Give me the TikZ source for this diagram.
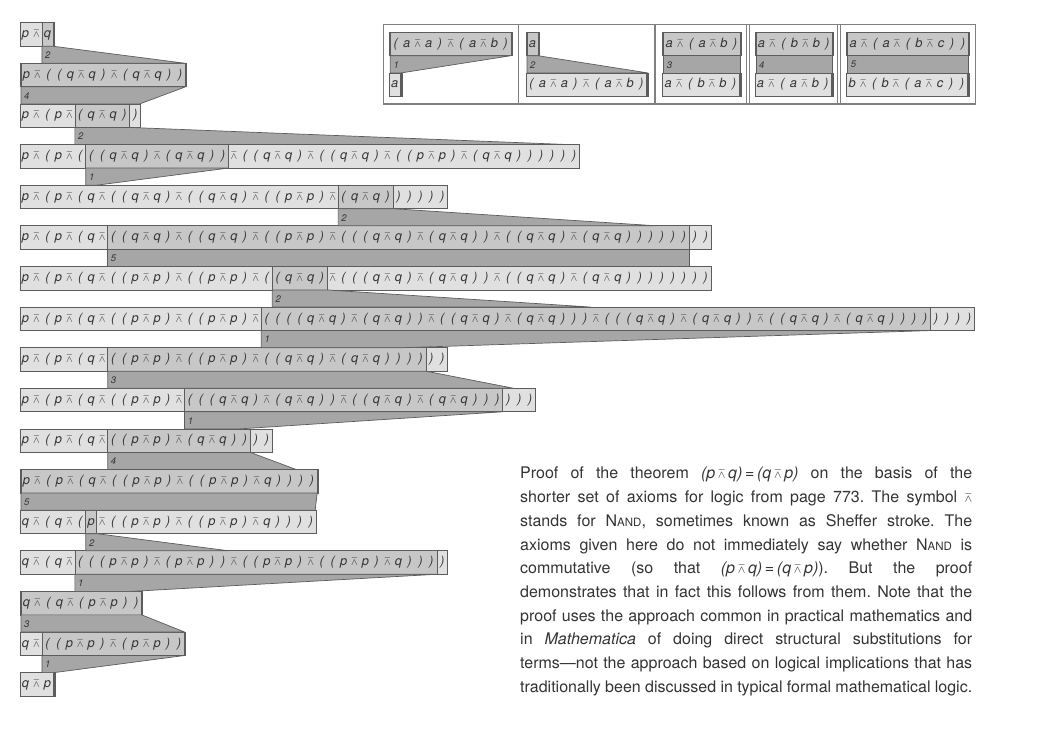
\documentclass[tikz,border=0pt]{standalone}
\usepackage{amssymb}
\usepackage{fontspec}
\setmainfont{TeX Gyre Heros}
\usetikzlibrary{positioning,calc}

\definecolor{boxlite}{gray}{0.88}
\definecolor{boxhigh}{gray}{0.78}
\definecolor{bandgray}{gray}{0.65}
\definecolor{edgegray}{gray}{0.36}
\definecolor{inkgray}{gray}{0.2}
\definecolor{framegray}{gray}{0.5}

% one symbol per fixed-width cell, n stands for nand
\newlength\cw
\setlength\cw{10.97pt}
\def\tm#1{\tmloop#1\relax}
\def\tmloop#1{\ifx#1\relax\else\tmch{#1}\expandafter\tmloop\fi}
\def\tmch#1{\makebox[\cw]{\if n#1{\fontsize{11}{11}\selectfont$\barwedge$}\else#1\fi}}
\newcommand\nandc{{\fontsize{12.5}{12.5}\selectfont$\barwedge$}}

% a row of a proof: prefix, rewritten part, suffix
\newcommand\termrow[6]{%
  \node[lite,anchor=north west] (#1a) at (#2,#3) {\tm{#4}};
  \node[high,right=0pt of #1a] (#1b) {\tm{#5}};
  \node[lite,right=0pt of #1b] (#1c) {\tm{#6}};}

\tikzset{
  cell/.style={draw=edgegray,line width=0.7pt,inner sep=0pt,outer sep=0pt,
    minimum height=23.5pt,text height=9.5pt,text depth=3pt,
    font=\fontsize{12.8}{12.8}\selectfont\itshape,text=inkgray},
  lite/.style={cell,fill=boxlite},
  high/.style={cell,fill=boxhigh},
  band/.style={draw=edgegray,line width=0.7pt,fill=bandgray,line join=round},
  steplabel/.style={anchor=north west,inner sep=0pt,
    font=\fontsize{9.5}{9.5}\selectfont\itshape,text=inkgray},
  insetframe/.style={draw=framegray,line width=1.1pt},
  caption/.style={anchor=north west,inner sep=0pt,text width=452pt,align=justify,
    font=\fontsize{16}{23.7}\selectfont\frenchspacing,text=inkgray},
}

\begin{document}
\begin{tikzpicture}[x=1pt,y=-1pt]
\useasboundingbox (0,0) rectangle (1058,732);

% the proof
\termrow{r1}{20}{22.7}{pn}{q}{}
\termrow{r2}{20}{63.32}{}{pn((qnq)n(qnq))}{}
\termrow{r3}{20}{103.94}{pn(pn}{(qnq)}{)}
\termrow{r4}{20}{144.56}{pn(pn(}{((qnq)n(qnq))}{n((qnq)n((qnq)n((pnp)n(qnq))))))}
\termrow{r5}{20}{185.18}{pn(pn(qn((qnq)n((qnq)n((pnp)n}{(qnq)}{)))))}
\termrow{r6}{20}{225.8}{pn(pn(qn}{((qnq)n((qnq)n((pnp)n(((qnq)n(qnq))n((qnq)n(qnq))))))}{))}
\termrow{r7}{20}{266.42}{pn(pn(qn((pnp)n((pnp)n(}{(qnq)}{n(((qnq)n(qnq))n((qnq)n(qnq))))))))}
\termrow{r8}{20}{307.04}{pn(pn(qn((pnp)n((pnp)n}{((((qnq)n(qnq))n((qnq)n(qnq)))n(((qnq)n(qnq))n((qnq)n(qnq))))}{))))}
\termrow{r9}{20}{347.66}{pn(pn(qn}{((pnp)n((pnp)n((qnq)n(qnq))))}{))}
\termrow{r10}{20}{388.28}{pn(pn(qn((pnp)n}{(((qnq)n(qnq))n((qnq)n(qnq)))}{)))}
\termrow{r11}{20}{428.9}{pn(pn(qn}{((pnp)n(qnq))}{))}
\termrow{r12}{20}{469.52}{}{pn(pn(qn((pnp)n((pnp)nq))))}{}
\termrow{r13}{20}{510.14}{qn(qn(}{p}{n((pnp)n((pnp)nq))))}
\termrow{r14}{20}{550.76}{qn(qn}{(((pnp)n(pnp))n((pnp)n((pnp)nq)))}{)}
\termrow{r15}{20}{591.38}{}{qn(qn(pnp))}{}
\termrow{r16}{20}{632}{qn}{((pnp)n(pnp))}{}
\termrow{r17}{20}{672.62}{qnp}{}{}

\foreach \i/\k in {1/2,2/4,3/2,4/1,5/2,6/5,7/2,8/1,9/3,10/1,11/4,12/5,13/2,14/1,15/3,16/1}{
  \pgfmathtruncatemacro\j{\i+1}
  \draw[band] (r\i b.south west) -- (r\i b.south east)
    -- ($(r\i b.south east)+(r\j c.north east)-(r\i c.south east)$)
    -- (r\i b.south west |- r\j c.north) -- cycle;
  \node[steplabel] (lab\i) at ($(r\i b.south west)+(3,5.5)$) {\k};
}

% the axioms
\draw[insetframe] (383.3,24.7) rectangle (975.3,104);
\draw[insetframe] (518.3,24.7) -- (518.3,104);
\draw[insetframe] (655,24.7) -- (655,104);
\draw[insetframe] (746.5,24.7) -- (746.5,104);
\draw[insetframe] (749.5,24.7) -- (749.5,104);
\draw[insetframe] (837.5,24.7) -- (837.5,104);
\draw[insetframe] (840.5,24.7) -- (840.5,104);

\termrow{at1}{389.3}{32.2}{}{(ana)n(anb)}{}
\termrow{ab1}{389.3}{72.9}{a}{}{}
\termrow{at2}{526}{32.2}{}{a}{}
\termrow{ab2}{526}{72.9}{(ana)n(anb)}{}{}
\termrow{at3}{662.7}{32.2}{}{an(anb)}{}
\termrow{ab3}{662.7}{72.9}{an(bnb)}{}{}
\termrow{at4}{755}{32.2}{}{an(bnb)}{}
\termrow{ab4}{755}{72.9}{an(anb)}{}{}
\termrow{at5}{846.7}{32.2}{}{an(an(bnc))}{}
\termrow{ab5}{846.7}{72.9}{bn(bn(anc))}{}{}

\foreach \k in {1,...,5}{
  \draw[band] (at\k b.south west) -- (at\k b.south east)
    -- ($(at\k b.south east)+(ab\k c.north east)-(at\k c.south east)$)
    -- (at\k b.south west |- ab\k c.north) -- cycle;
  \node[steplabel] (axlab\k) at ($(at\k b.south west)+(3,5.5)$) {\k};
}

\node[caption] (cap) at (520,467) {\parfillskip=0pt
Proof of the theorem {\itshape(p\,\nandc\,q)}\,=\,{\itshape(q\,\nandc\,p)} on the basis of the\linebreak
shorter set of axioms for logic from page 773. The symbol \nandc\linebreak
stands for N{\fontsize{11.5}{11.5}\selectfont AND}, sometimes known as Sheffer stroke. The\linebreak
axioms given here do not immediately say whether N{\fontsize{11.5}{11.5}\selectfont AND} is\linebreak
commutative (so that {\itshape(p\,\nandc\,q)}\,=\,{\itshape(q\,\nandc\,p)}). But the proof\linebreak
demonstrates that in fact this follows from them. Note that the\linebreak
proof uses the approach common in practical mathematics and\linebreak
in \textit{Mathematica} of doing direct structural substitutions for\linebreak
terms---not the approach based on logical implications that has\linebreak
traditionally been discussed in typical formal mathematical logic.};
\end{tikzpicture}
\end{document}
